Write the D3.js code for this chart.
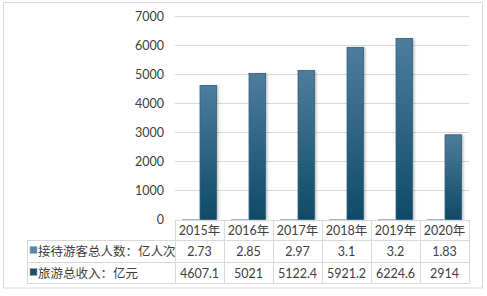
<!DOCTYPE html>
<html>
<head>
<meta charset="utf-8">
<script src="https://cdn.jsdelivr.net/npm/d3@7"></script>
<style>
  body { margin: 0; background: #fff; }
  text { font-family: Lato, "Noto Sans CJK SC", sans-serif; fill: #404040; }
</style>
</head>
<body>
<div id="chart"></div>
<script>
// data
var years = ["2015年", "2016年", "2017年", "2018年", "2019年", "2020年"];
var seriesNames = ["接待游客总人数：亿人次", "旅游总收入：亿元"];
var visitors = [2.73, 2.85, 2.97, 3.1, 3.2, 1.83];
var revenue = [4607.1, 5021, 5122.4, 5921.2, 6224.6, 2914];
var yTicks = [0, 1000, 2000, 3000, 4000, 5000, 6000, 7000];

var width = 487, height = 296;
var plotLeft = 175, plotRight = 469, plotTop = 16, plotBottom = 219.5;
var tableLeft = 27;
var rowLines = [240, 262, 283];
var gridColor = "#d9d9d9";

var svg = d3.select("#chart").append("svg")
    .attr("width", width)
    .attr("height", height);

// outer frame
svg.append("rect")
    .attr("x", 3.5).attr("y", 2.5)
    .attr("width", 479).attr("height", 285.5)
    .attr("fill", "none").attr("stroke", gridColor);

var defs = svg.append("defs");
var grad = defs.append("linearGradient").attr("id", "barGrad")
    .attr("x1", 0).attr("y1", 0).attr("x2", 0).attr("y2", 1);
grad.append("stop").attr("offset", "0%").attr("stop-color", "#4d7d9c");
grad.append("stop").attr("offset", "100%").attr("stop-color", "#0f4a67");
var grad2 = defs.append("linearGradient").attr("id", "barGrad2")
    .attr("x1", 0).attr("y1", 0).attr("x2", 0).attr("y2", 1);
grad2.append("stop").attr("offset", "0%").attr("stop-color", "#6d9bb8");
grad2.append("stop").attr("offset", "100%").attr("stop-color", "#5a86a3");
var shadow = defs.append("filter").attr("id", "shadow")
    .attr("x", "-20%").attr("y", "-5%").attr("width", "160%").attr("height", "110%");
shadow.append("feDropShadow").attr("dx", 1.5).attr("dy", 0.5)
    .attr("stdDeviation", 0.8).attr("flood-color", "#000").attr("flood-opacity", 0.25);

var x = d3.scaleBand().domain(years).range([plotLeft, plotRight]);
var x1 = d3.scaleBand().domain([0, 1]).range([-17, 17]).paddingInner(0.06);
var y = d3.scaleLinear().domain([0, 7000]).range([plotBottom, plotTop]);

// y axis + gridlines
var yAxis = d3.axisLeft(y).tickValues(yTicks).tickFormat(d3.format("d"))
    .tickSize(0).tickPadding(11);
var yg = svg.append("g")
    .attr("transform", "translate(" + plotLeft + ",0)")
    .call(yAxis);
yg.select(".domain").remove();
yg.selectAll("text")
    .attr("font-size", 12.5)
    .style("font-family", "Lato, sans-serif")
    .attr("fill", "#404040");

svg.append("g").selectAll("line")
    .data(yTicks.filter(function(d){ return d > 0; }))
    .enter().append("line")
    .attr("x1", plotLeft).attr("x2", plotRight)
    .attr("y1", function(d){ return Math.round(y(d)) + 0.5; })
    .attr("y2", function(d){ return Math.round(y(d)) + 0.5; })
    .attr("stroke", gridColor);

// bars
var bars = svg.append("g");
years.forEach(function(yr, i){
    var cx = x(yr) + x.bandwidth() / 2;
    var vals = [visitors[i], revenue[i]];
    vals.forEach(function(v, s){
        bars.append("rect")
            .attr("x", cx + x1(s))
            .attr("y", y(v))
            .attr("width", x1.bandwidth())
            .attr("height", Math.max(0, y(0) - y(v)))
            .attr("fill", s === 0 ? "url(#barGrad2)" : "url(#barGrad)")
            .attr("stroke", s === 0 ? "#8aa9bd" : "#2f5f7c")
            .attr("stroke-width", 0.8)
            .attr("filter", s === 1 ? "url(#shadow)" : null);
    });
});

// data table
var table = svg.append("g");
var axisY = 220;
table.append("line")
    .attr("x1", plotLeft).attr("x2", plotRight)
    .attr("y1", axisY + 0.5).attr("y2", axisY + 0.5)
    .attr("stroke", gridColor);
rowLines.forEach(function(ry){
    table.append("line")
        .attr("x1", tableLeft).attr("x2", plotRight)
        .attr("y1", ry + 0.5).attr("y2", ry + 0.5)
        .attr("stroke", gridColor);
});
var colEdges = [plotLeft].concat(years.map(function(d){ return x(d) + x.bandwidth(); }));
colEdges.forEach(function(cx){
    table.append("line")
        .attr("x1", Math.round(cx) + 0.5).attr("x2", Math.round(cx) + 0.5)
        .attr("y1", axisY).attr("y2", rowLines[2] + 0.5)
        .attr("stroke", gridColor);
});
table.append("line")
    .attr("x1", tableLeft + 0.5).attr("x2", tableLeft + 0.5)
    .attr("y1", rowLines[0]).attr("y2", rowLines[2] + 0.5)
    .attr("stroke", gridColor);

// header
table.selectAll(".hdr").data(years).enter().append("text")
    .attr("class", "hdr")
    .attr("x", function(d){ return x(d) + x.bandwidth() / 2; })
    .attr("y", 234.5)
    .attr("text-anchor", "middle")
    .attr("font-size", 12.5)
    .text(function(d){ return d; });

var rowData = [visitors, revenue];
var rowMid = [251, 273];
var markerColors = ["#5689ab", "#1f4e68"];
rowData.forEach(function(vals, r){
    table.append("rect")
        .attr("x", 30).attr("y", rowMid[r] - 4.5)
        .attr("width", 7).attr("height", 7)
        .attr("fill", markerColors[r])
        .attr("stroke", "#8aa9bd").attr("stroke-width", 0.5);
    table.append("text")
        .attr("x", 38).attr("y", rowMid[r] + 4.5)
        .attr("font-size", 12.5)
        .style("font-family", "'Noto Sans CJK SC', sans-serif")
        .text(seriesNames[r]);
    table.selectAll(".v" + r).data(vals).enter().append("text")
        .attr("x", function(d, i){ return x(years[i]) + x.bandwidth() / 2; })
        .attr("y", rowMid[r] + 4.5)
        .attr("text-anchor", "middle")
        .attr("font-size", 12.5)
        .text(function(d){ return d; });
});
</script>
</body>
</html>
